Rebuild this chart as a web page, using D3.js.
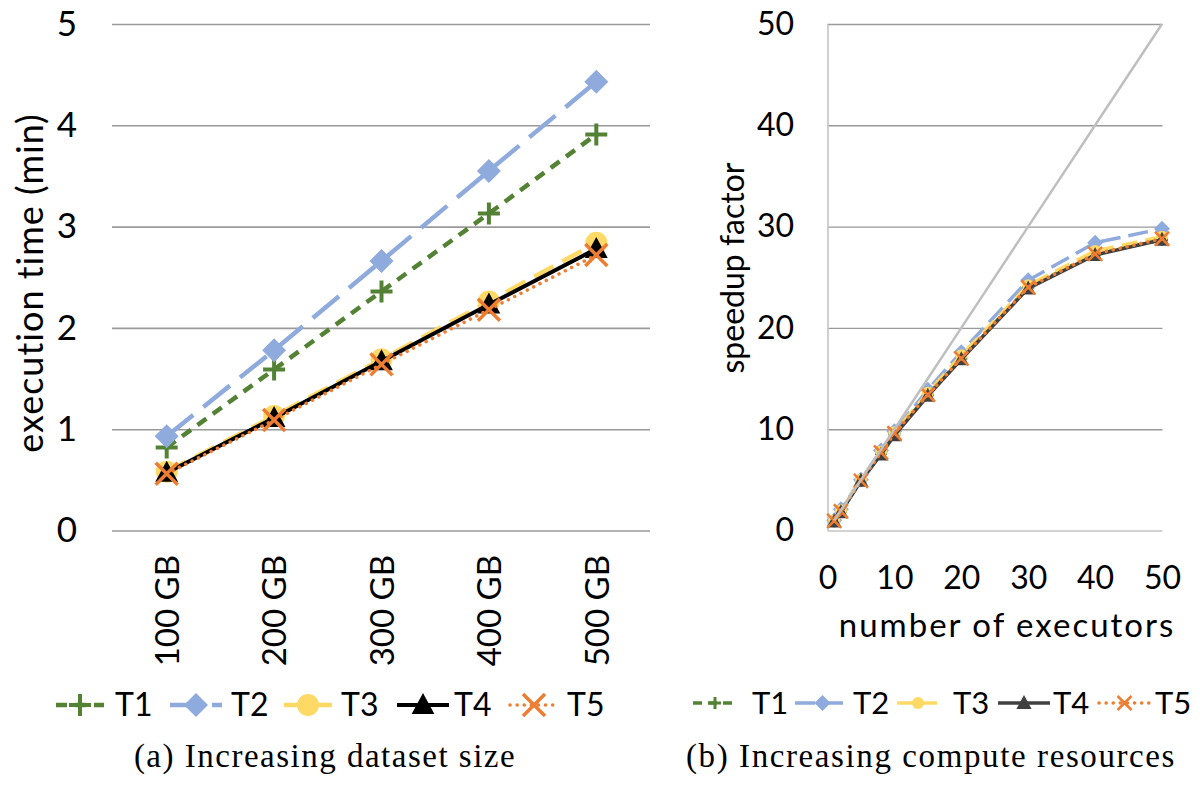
<!DOCTYPE html>
<html>
<head>
<meta charset="utf-8">
<script src="https://cdn.jsdelivr.net/npm/d3@7"></script>
<style>
  html, body { margin: 0; padding: 0; background: #fff; }
  svg { display: block; }
  .sans { font-family: Lato, "Open Sans", sans-serif; fill: #000; }
  .serif { font-family: "Liberation Serif", "DejaVu Serif", serif; fill: #000; }
</style>
</head>
<body>
<svg id="chart" width="1200" height="787"></svg>
<script>
// ---- data: (a) execution time by dataset size ----
const sizeCategories = ["100 GB", "200 GB", "300 GB", "400 GB", "500 GB"];
const timeT1 = [0.82, 1.59, 2.36, 3.13, 3.91];
const timeT2 = [0.93, 1.78, 2.66, 3.55, 4.43];
const timeT3 = [0.58, 1.13, 1.69, 2.26, 2.84];
const timeT4 = [0.57, 1.11, 1.67, 2.23, 2.78];
const timeT5 = [0.56, 1.09, 1.64, 2.18, 2.72];
const timeTicks = [0, 1, 2, 3, 4, 5];

// ---- data: (b) speedup by number of executors ----
const executors = [1, 2, 5, 8, 10, 15, 20, 30, 40, 50];
const speedT1 = [0.95, 1.9, 4.9, 7.6, 9.5, 13.4, 17.0, 24.0, 27.3, 28.7];
const speedT2 = [1.0, 2.1, 5.0, 7.9, 9.8, 13.9, 17.6, 24.7, 28.4, 29.8];
const speedT3 = [1.0, 2.0, 5.0, 7.8, 9.7, 13.6, 17.3, 24.2, 27.6, 29.0];
const speedT4 = [0.9, 1.8, 4.9, 7.5, 9.4, 13.3, 16.9, 23.9, 27.2, 28.7];
const speedT5 = [0.95, 1.9, 4.9, 7.7, 9.6, 13.4, 17.0, 24.0, 27.3, 28.8];
const speedIdeal = [1, 2, 5, 8, 10, 15, 20, 30, 40, 50];
const speedTicks = [0, 10, 20, 30, 40, 50];
const executorTicks = [0, 10, 20, 30, 40, 50];

const seriesNames = ["T1", "T2", "T3", "T4", "T5"];

const svg = d3.select("#chart");

// marker path builders (centred on 0,0)
function markerPath(kind, s) {
  const p = d3.path();
  if (kind === "plus") { p.moveTo(-s, 0); p.lineTo(s, 0); p.moveTo(0, -s); p.lineTo(0, s); }
  else if (kind === "diamond") { p.moveTo(0, -s); p.lineTo(s, 0); p.lineTo(0, s); p.lineTo(-s, 0); p.closePath(); }
  else if (kind === "circle") { p.moveTo(s, 0); p.arc(0, 0, s, 0, 2 * Math.PI); p.closePath(); }
  else if (kind === "triangle") { p.moveTo(0, -s); p.lineTo(s * 0.95, s * 0.75); p.lineTo(-s * 0.95, s * 0.75); p.closePath(); }
  else if (kind === "x") { p.moveTo(-s, -s); p.lineTo(s, s); p.moveTo(-s, s); p.lineTo(s, -s); }
  return p.toString();
}
const stroked = { plus: true, x: true };

function styleFor(name, panel) {
  const big = panel === "a";
  const st = {
    T1: { color: "#548235", dash: big ? "11 8" : "9 6", width: big ? 4.5 : 3.5, marker: "plus", ms: big ? 11 : 6, mw: big ? 4 : 3 },
    T2: { color: "#8FAADC", dash: big ? "34 13" : "20 8", width: big ? 4.5 : 3.5, marker: "diamond", ms: big ? 12 : 8 },
    T3: { color: "#FFD966", dash: big ? "22 10" : "16 8", width: big ? 4.5 : 3.5, marker: "circle", ms: big ? 11 : 6 },
    T4: { color: big ? "#000000" : "#404040", dash: null, width: big ? 4 : 3.5, marker: "triangle", ms: big ? 12 : 8 },
    T5: { color: "#ED7D31", dash: "0.1 7", width: 3.5, marker: "x", ms: big ? 11 : 7, mw: big ? 3.5 : 2.5, round: true }
  };
  return st[name];
}

function drawSeries(g, pts, st) {
  const line = d3.line().x(d => d[0]).y(d => d[1]);
  g.append("path")
    .attr("d", line(pts))
    .attr("fill", "none")
    .attr("stroke", st.color)
    .attr("stroke-width", st.width)
    .attr("stroke-dasharray", st.dash)
    .attr("stroke-linecap", st.round ? "round" : "butt")
    .attr("stroke-linejoin", "round");
  g.selectAll(null).data(pts).enter().append("path")
    .attr("transform", d => `translate(${d[0]},${d[1]})`)
    .attr("d", markerPath(st.marker, st.ms))
    .attr("fill", stroked[st.marker] ? "none" : st.color)
    .attr("stroke", stroked[st.marker] ? st.color : "none")
    .attr("stroke-width", st.mw || 0);
}

function drawLegend(g, panel, items, fontSize) {
  items.forEach(it => {
    const st = styleFor(it.name, panel);
    const lg = g.append("g").attr("transform", `translate(${it.x},0)`);
    lg.append("line")
      .attr("x1", 0).attr("x2", it.len).attr("y1", 0).attr("y2", 0)
      .attr("stroke", st.color).attr("stroke-width", st.width)
      .attr("stroke-dasharray", panel === "a" && st.dash ? (it.name === "T2" ? "34 8" : st.dash) : (st.dash || null))
      .attr("stroke-linecap", st.round ? "round" : "butt");
    lg.append("path")
      .attr("transform", `translate(${it.len / 2},0)`)
      .attr("d", markerPath(st.marker, st.ms))
      .attr("fill", stroked[st.marker] ? "none" : st.color)
      .attr("stroke", stroked[st.marker] ? st.color : "none")
      .attr("stroke-width", st.mw || 0);
    lg.append("text").attr("class", "sans")
      .attr("x", it.len + it.gap).attr("y", 0).attr("dy", "0.35em")
      .attr("font-size", fontSize).text(it.name);
  });
}

// =================== panel (a) ===================
const xA = d3.scalePoint().domain(sizeCategories).range([113, 650]).padding(0.5);
const yA = d3.scaleLinear().domain([0, 5]).range([530.5, 24]);
const gA = svg.append("g");

// gridlines
gA.append("g")
  .attr("transform", "translate(112,0)")
  .call(d3.axisLeft(yA).tickValues(timeTicks).tickSize(-538).tickFormat(""))
  .call(g => g.select(".domain").remove())
  .call(g => g.selectAll(".tick line").attr("stroke", "#9a9a9a").attr("stroke-width", 1.6));

// y tick labels
gA.append("g")
  .attr("transform", "translate(77,0)")
  .call(d3.axisLeft(yA).tickValues(timeTicks).tickSize(0).tickPadding(0).tickFormat(d3.format("d")))
  .call(g => g.select(".domain").remove())
  .call(g => g.selectAll("text").attr("class", "sans").attr("font-size", 35).attr("font-family", null));

// x tick labels (rotated)
gA.append("g")
  .attr("transform", "translate(0,555)")
  .call(d3.axisBottom(xA).tickSize(0).tickPadding(0))
  .call(g => g.select(".domain").remove())
  .call(g => g.selectAll("text")
    .attr("class", "sans").attr("font-size", 33).attr("font-family", null)
    .attr("text-anchor", "end").attr("transform", "rotate(-90)")
    .attr("x", 0).attr("y", 0).attr("dy", "0.36em"));

gA.append("text").attr("class", "sans")
  .attr("transform", "translate(30,283) rotate(-90)")
  .attr("text-anchor", "middle").attr("dy", "0.35em")
  .attr("font-size", 36).attr("letter-spacing", 1).text("execution time (min)");

const timeSeries = [timeT1, timeT2, timeT3, timeT4, timeT5];
seriesNames.forEach((name, i) => {
  const pts = sizeCategories.map((c, j) => [xA(c), yA(timeSeries[i][j])]);
  drawSeries(gA.append("g"), pts, styleFor(name, "a"));
});

drawLegend(svg.append("g").attr("transform", "translate(0,705)"), "a", [
  { name: "T1", x: 56, len: 48, gap: 11 },
  { name: "T2", x: 170, len: 52, gap: 9 },
  { name: "T3", x: 284, len: 48, gap: 9 },
  { name: "T4", x: 397, len: 52, gap: 5 },
  { name: "T5", x: 510, len: 48, gap: 9 }
], 32);

svg.append("text").attr("class", "serif")
  .attr("x", 325).attr("y", 767).attr("text-anchor", "middle")
  .attr("font-size", 33).attr("letter-spacing", 1.5).text("(a) Increasing dataset size");

// =================== panel (b) ===================
const xB = d3.scaleLinear().domain([0, 50]).range([827.5, 1162]);
const yB = d3.scaleLinear().domain([0, 50]).range([530.5, 24]);
const gB = svg.append("g");

gB.append("g")
  .attr("transform", "translate(827.5,0)")
  .call(d3.axisLeft(yB).tickValues(speedTicks.filter(d => d > 0)).tickSize(-335).tickFormat(""))
  .call(g => g.select(".domain").remove())
  .call(g => g.selectAll(".tick line").attr("stroke", "#9a9a9a").attr("stroke-width", 1.4));

// axis lines (left and bottom)
gB.append("g")
  .attr("transform", "translate(0,530.5)")
  .call(d3.axisBottom(xB).tickValues(executorTicks).tickSize(0).tickFormat(""))
  .call(g => g.select(".domain").attr("stroke", "#c4c4c4").attr("stroke-width", 1.6));
gB.append("g")
  .attr("transform", "translate(827.5,0)")
  .call(d3.axisLeft(yB).tickValues(speedTicks).tickSize(0).tickFormat(""))
  .call(g => g.select(".domain").attr("stroke", "#c4c4c4").attr("stroke-width", 1.6));

// tick labels
gB.append("g")
  .attr("transform", "translate(794,0)")
  .call(d3.axisLeft(yB).tickValues(speedTicks).tickSize(0).tickPadding(0).tickFormat(d3.format("d")))
  .call(g => g.select(".domain").remove())
  .call(g => g.selectAll("text").attr("class", "sans").attr("font-size", 32).attr("font-family", null));
gB.append("g")
  .attr("transform", "translate(0,566)")
  .call(d3.axisBottom(xB).tickValues(executorTicks).tickSize(0).tickPadding(0).tickFormat(d3.format("d")))
  .call(g => g.select(".domain").remove())
  .call(g => g.selectAll("text").attr("class", "sans").attr("font-size", 32).attr("font-family", null));

gB.append("text").attr("class", "sans")
  .attr("transform", "translate(733,268) rotate(-90)")
  .attr("text-anchor", "middle").attr("dy", "0.35em")
  .attr("font-size", 32).text("speedup factor");
gB.append("text").attr("class", "sans")
  .attr("x", 1007).attr("y", 637).attr("text-anchor", "middle")
  .attr("font-size", 33).attr("letter-spacing", 2).text("number of executors");

const speedSeries = [speedT1, speedT2, speedT3, speedT4, speedT5];
seriesNames.forEach((name, i) => {
  const pts = executors.map((e, j) => [xB(e), yB(speedSeries[i][j])]);
  drawSeries(gB.append("g"), pts, styleFor(name, "b"));
});

// linear-speedup reference line
gB.append("path")
  .attr("d", d3.line().x((d, j) => xB(executors[j])).y(d => yB(d))(speedIdeal))
  .attr("fill", "none").attr("stroke", "#bfbfbf").attr("stroke-width", 2.5);

drawLegend(svg.append("g").attr("transform", "translate(0,703)"), "b", [
  { name: "T1", x: 693, len: 44, gap: 15 },
  { name: "T2", x: 795, len: 55, gap: 3 },
  { name: "T3", x: 897, len: 42, gap: 14 },
  { name: "T4", x: 998, len: 52, gap: 3 },
  { name: "T5", x: 1099, len: 51, gap: 5 }
], 31);

svg.append("text").attr("class", "serif")
  .attr("x", 931).attr("y", 767).attr("text-anchor", "middle")
  .attr("font-size", 33).attr("letter-spacing", 1.6).text("(b) Increasing compute resources");
</script>
</body>
</html>
